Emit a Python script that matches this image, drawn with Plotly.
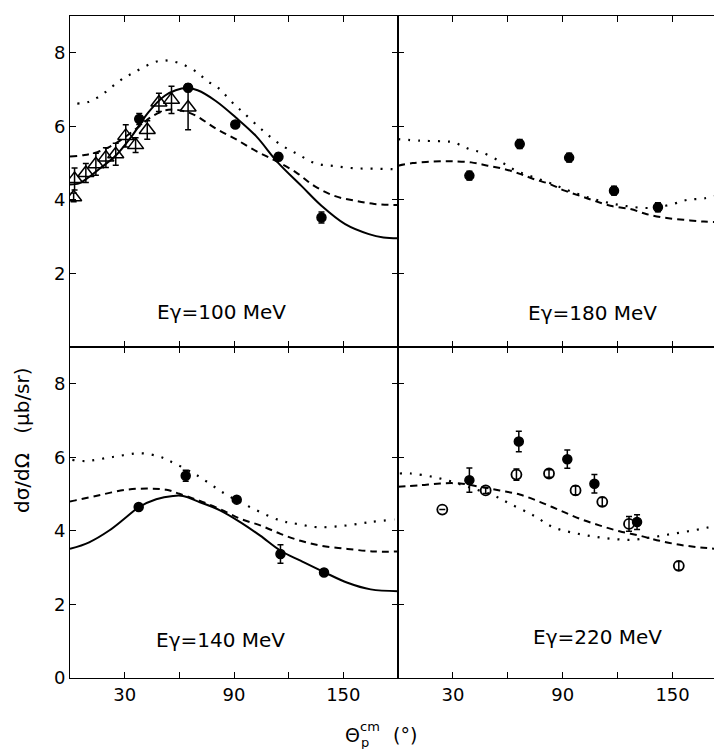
import plotly.graph_objects as go
from plotly.subplots import make_subplots

# ---------------- data (theta in degrees, dsigma/dOmega in microbarn/sr) ----------------
# E_gamma = 100 MeV
th100_solid = [0, 5, 9, 16, 25, 34, 43, 52, 58, 64, 70, 80, 91, 102, 114, 127, 138, 151, 164, 172, 180]
v100_solid = [4.42, 4.45, 4.57, 4.84, 5.2, 5.74, 6.38, 6.83, 6.98, 7.04, 6.98, 6.69, 6.24, 5.74, 5.02, 4.38, 3.84, 3.34, 3.07, 2.98, 2.96]
th100_dash = [0, 8, 15, 22, 30, 38, 46, 54, 62, 69, 80, 91, 102, 113, 124, 134, 145, 156, 167, 180]
v100_dash = [5.18, 5.22, 5.3, 5.45, 5.7, 6.0, 6.3, 6.45, 6.42, 6.29, 5.94, 5.65, 5.33, 5.06, 4.75, 4.38, 4.11, 3.98, 3.89, 3.86]
th100_dot = [4, 10, 15, 20, 25, 30, 35, 42, 49, 55, 62, 70, 75, 81, 90, 95, 105, 115, 125, 135, 145, 156, 167, 180]
v100_dot = [6.62, 6.66, 6.78, 6.95, 7.15, 7.33, 7.46, 7.65, 7.78, 7.78, 7.68, 7.46, 7.24, 7.06, 6.6, 6.38, 5.92, 5.52, 5.24, 4.99, 4.92, 4.86, 4.85, 4.83]
th100_tri = [2, 2.5, 8.7, 14.2, 19.7, 25.1, 30.6, 36, 42.4, 48.8, 55.7, 64.8]
v100_tri = [4.07, 4.57, 4.73, 4.97, 5.15, 5.24, 5.74, 5.49, 5.9, 6.65, 6.72, 6.51]
e100_tri = [0.12, 0.3, 0.26, 0.3, 0.27, 0.3, 0.3, 0.2, 0.25, 0.25, 0.37, 0.6]
th100_pts = [38, 64.8, 90.7, 114.4, 138]
v100_pts = [6.2, 7.05, 6.05, 5.17, 3.52]
e100_pts = [0.15, 0.1, 0.08, 0.1, 0.15]

# E_gamma = 180 MeV
th180_dash = [0, 8, 23, 30, 40, 49, 58, 67, 74, 83, 91, 100, 107, 116, 127, 136, 145, 156, 167, 177]
v180_dash = [4.93, 5.0, 5.05, 5.05, 5.02, 4.93, 4.84, 4.7, 4.57, 4.43, 4.25, 4.1, 3.98, 3.84, 3.75, 3.61, 3.52, 3.46, 3.41, 3.4]
th180_dot = [0, 12, 25, 30, 35, 40, 46, 56, 65, 75, 85, 95, 105, 115, 125, 135, 142, 151, 158, 167, 177]
v180_dot = [5.65, 5.61, 5.59, 5.57, 5.47, 5.36, 5.29, 5.04, 4.78, 4.6, 4.42, 4.22, 4.05, 3.92, 3.83, 3.78, 3.8, 3.9, 4.0, 4.04, 4.15]
th180_pts = [39, 66.5, 93.5, 118, 142]
v180_pts = [4.66, 5.52, 5.15, 4.25, 3.8]
e180_pts = [0.12, 0.12, 0.12, 0.12, 0.12]

# E_gamma = 140 MeV
th140_solid = [0, 10.5, 21.5, 30.8, 38, 47.3, 56.5, 62, 71.3, 82.3, 93.4, 104.4, 115.5, 126.5, 139.4, 152.3, 165, 180]
v140_solid = [3.51, 3.69, 4.01, 4.37, 4.65, 4.86, 4.95, 4.95, 4.78, 4.56, 4.24, 3.87, 3.46, 3.19, 2.88, 2.59, 2.41, 2.36]
th140_dash = [0, 3, 16, 30.8, 43.6, 52.9, 60, 71, 82, 93.4, 104.4, 115.5, 126.5, 137.6, 152.3, 167, 180]
v140_dash = [4.8, 4.83, 4.97, 5.12, 5.15, 5.12, 5.01, 4.82, 4.6, 4.33, 4.15, 3.92, 3.73, 3.6, 3.51, 3.44, 3.44]
th140_dot = [1.3, 8.7, 23.4, 39, 49, 54.7, 69.4, 85, 95, 115.5, 124.7, 135.7, 150.4, 165, 178]
v140_dot = [5.93, 5.9, 6.01, 6.11, 6.02, 5.9, 5.52, 5.01, 4.74, 4.28, 4.19, 4.1, 4.14, 4.24, 4.31]
th140_pts = [37.7, 63.5, 91.5, 115.5, 139.4]
v140_pts = [4.65, 5.5, 4.85, 3.37, 2.87]
e140_pts = [0.08, 0.15, 0.06, 0.25, 0.08]

# E_gamma = 220 MeV
th220_dot = [1, 7, 19, 30, 41, 52, 61, 74, 84.7, 95.6, 106.6, 117.5, 128.4, 139.3, 150, 161, 170, 177]
v220_dot = [5.56, 5.56, 5.47, 5.33, 5.15, 4.97, 4.74, 4.42, 4.1, 3.95, 3.85, 3.78, 3.76, 3.83, 3.92, 4.01, 4.1, 4.16]
th220_dash = [0, 12, 23, 34, 44.6, 55.6, 66.5, 77.4, 88.4, 99.3, 110, 121, 132, 143, 154, 165, 177]
v220_dash = [5.2, 5.24, 5.29, 5.29, 5.2, 5.1, 4.99, 4.79, 4.56, 4.33, 4.15, 3.99, 3.87, 3.73, 3.62, 3.55, 3.5]
th220_full = [39, 66, 92.5, 107.3, 130.6]
v220_full = [5.38, 6.43, 5.95, 5.28, 4.24]
e220_full = [0.33, 0.28, 0.25, 0.25, 0.2]
th220_open = [24.2, 47.9, 64.7, 82.5, 97, 111.6, 126.2, 153.4]
v220_open = [4.58, 5.1, 5.53, 5.56, 5.1, 4.79, 4.19, 3.05]
e220_open = [0, 0.08, 0.15, 0.1, 0.12, 0.12, 0.2, 0.12]

x_ticks = [30, 60, 90, 120, 150]
x_ticktext = ["30", "", "90", "", "150"]
y_ticks_top = [2, 4, 6, 8]
y_ticks_bottom = [0, 2, 4, 6, 8]
panel_labels = ["E\u03b3=100 MeV", "E\u03b3=180 MeV", "E\u03b3=140 MeV", "E\u03b3=220 MeV"]

# ---------------- figure ----------------
# the page body adds an 8px offset; the figure is sized to fill the 722x749 window exactly
OFF = 8
W, H = 722 - OFF, 749 - OFF
ML, MR, MT, MB = 70 - OFF, 0, 16 - OFF, 71
PW, PH = W - ML - MR, H - MT - MB

fig = make_subplots(rows=2, cols=2, horizontal_spacing=0, vertical_spacing=0,
                    column_widths=[328, 324])

BLK = "black"
FONT = "DejaVu Sans"


def line(th, v, dash, row, col, width=2.0):
    fig.add_trace(go.Scatter(x=th, y=v, mode="lines",
                             line=dict(color=BLK, width=width, dash=dash, shape="spline", smoothing=1.0),
                             showlegend=False, hoverinfo="skip"), row=row, col=col)


def pts(th, v, err, symbol, size, row, col, lw=1.5):
    fig.add_trace(go.Scatter(x=th, y=v, mode="markers",
                             marker=dict(symbol=symbol, size=size, color=BLK,
                                         line=dict(color=BLK, width=lw)),
                             error_y=dict(type="data", array=err, visible=True,
                                          color=BLK, thickness=1.5, width=3),
                             showlegend=False), row=row, col=col)


DASH = "7px,5px"
DOT = "2px,8px"

# 100 MeV (top-left)
line(th100_solid, v100_solid, "solid", 1, 1)
line(th100_dash, v100_dash, DASH, 1, 1)
line(th100_dot, v100_dot, DOT, 1, 1, 2.2)
pts(th100_tri, v100_tri, e100_tri, "triangle-up-open", 14, 1, 1)
pts(th100_pts, v100_pts, e100_pts, "circle", 9, 1, 1)

# 180 MeV (top-right)
line(th180_dash, v180_dash, DASH, 1, 2)
line(th180_dot, v180_dot, DOT, 1, 2, 2.2)
pts(th180_pts, v180_pts, e180_pts, "circle", 9, 1, 2)

# 140 MeV (bottom-left)
line(th140_solid, v140_solid, "solid", 2, 1)
line(th140_dash, v140_dash, DASH, 2, 1)
line(th140_dot, v140_dot, DOT, 2, 1, 2.2)
pts(th140_pts, v140_pts, e140_pts, "circle", 9, 2, 1)

# 220 MeV (bottom-right)
line(th220_dash, v220_dash, DASH, 2, 2)
line(th220_dot, v220_dot, DOT, 2, 2, 2.2)
pts(th220_open, v220_open, e220_open, "circle-open", 10, 2, 2, 1.8)
pts(th220_full, v220_full, e220_full, "circle", 9, 2, 2)

axis_common = dict(showline=True, linecolor=BLK, linewidth=1.0, mirror="ticks",
                   ticks="inside", ticklen=6, tickwidth=1.4, tickcolor=BLK,
                   showgrid=False, zeroline=False,
                   tickfont=dict(family=FONT, size=18, color=BLK))

for r in (1, 2):
    for c in (1, 2):
        xr = [0, 180] if c == 1 else [0, 177]
        fig.update_xaxes(range=xr, tickvals=x_ticks, ticktext=x_ticktext,
                         showticklabels=(r == 2), row=r, col=c, **axis_common)
        yt = y_ticks_top if r == 1 else y_ticks_bottom
        fig.update_yaxes(range=[0, 9], tickvals=yt, ticktext=[str(t) for t in yt],
                         showticklabels=(c == 1), row=r, col=c, **axis_common)


def px(x):  # page pixel -> paper fraction
    return (x - OFF - ML) / PW


def py(y):
    return (H - MB - (y - OFF)) / PH


def note(text, x, y, size, angle=0):
    return dict(text=text, x=px(x), y=py(y), xref="paper", yref="paper",
                xanchor="center", yanchor="middle", textangle=angle,
                showarrow=False, font=dict(family=FONT, size=size, color=BLK))


ann = []
label_pos = [(221, 312), (592, 313), (220, 640), (597, 637)]
for txt, (x, y) in zip(panel_labels, label_pos):
    ann.append(note(txt, x, y, 20))

ann.append(note("d\u03c3/d\u03a9   (\u03bcb/sr)", 22, 440, 20, -90))
ann.append(note("\u0398", 352, 735, 19))
ann.append(note("cm", 370, 727, 13))
ann.append(note("p", 365, 742, 13))
ann.append(note("(\u00b0)", 405, 735, 19))

fig.update_layout(width=W, height=H, margin=dict(l=ML, r=MR, t=MT, b=MB),
                  paper_bgcolor="white", plot_bgcolor="white",
                  annotations=ann, showlegend=False)

fig.write_html("out.html")
